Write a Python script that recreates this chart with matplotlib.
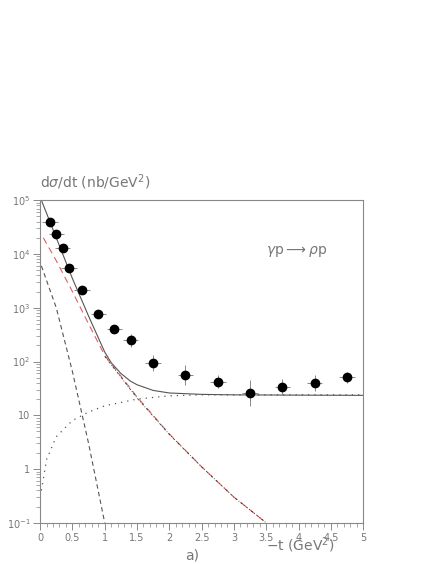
import matplotlib; matplotlib.use("Agg")
import matplotlib.pyplot as plt
from matplotlib.ticker import FixedLocator, NullFormatter, LogLocator

# data points
t_pts = [0.15, 0.25, 0.35, 0.45, 0.65, 0.9, 1.15, 1.4, 1.75, 2.25, 2.75, 3.25, 3.75, 4.25, 4.75]
y_pts = [3.9e4, 2.4e4, 1.3e4, 5.6e3, 2.1e3, 760, 400, 250, 93, 56, 42, 26, 33, 40, 51]
y_err = [0.04, 0.04, 0.05, 0.05, 0.06, 0.07, 0.08, 0.12, 0.15, 0.18, 0.12, 0.25, 0.15, 0.15, 0.1]

# model curves
t_tot = [0.02, 0.25, 0.5, 0.75, 1.0, 1.1, 1.25, 1.4, 1.5, 1.75, 2.0, 2.5, 3.0, 4.0, 5.0]
y_tot = [1e5, 2e4, 3.5e3, 700, 150, 95, 60, 43, 37, 29, 26, 24.5, 24, 23.7, 23.5]
t_red = [0.05, 0.25, 0.5, 0.75, 1.0, 1.5, 2.0, 2.5, 3.0, 3.5]
y_red = [2e4, 7.5e3, 2e3, 500, 130, 22, 4.5, 1.1, 0.3, 0.1]
t_dd = [1.0, 1.5, 2.0, 2.5, 3.0, 3.5]
y_dd = [125, 21, 4.4, 1.1, 0.3, 0.1]
t_steep = [0.02, 0.25, 0.5, 0.75, 1.0]
y_steep = [6e3, 1e3, 65, 3, 0.1]
t_dot = [0.02, 0.1, 0.25, 0.5, 0.75, 1.0, 1.5, 2.0, 2.5, 3.0, 5.0]
y_dot = [0.4, 1.5, 4, 8, 11.5, 15, 20, 23, 24, 24, 24]

fig = plt.figure(figsize=(4.36, 5.64), dpi=100)
ax = fig.add_axes([0.092, 0.073, 0.741, 0.572])
ax.set_yscale("log")
ax.set_xlim(0, 5); ax.set_ylim(0.1, 1e5)

gray = "#555555"
ax.plot(t_tot, y_tot, color=gray, lw=0.8)
ax.plot(t_red, y_red, color="#e06060", lw=0.8, ls=(0, (6, 4)))
ax.plot(t_dd, y_dd, color="#333333", lw=0.6, ls=(0, (3, 2, 1, 2)))
ax.plot(t_steep, y_steep, color=gray, lw=0.8, ls=(0, (4, 3)))
ax.plot(t_dot, y_dot, color=gray, lw=0.9, ls=(0, (1, 4)))
yerr_lo = [y * (1 - 10 ** -e) for y, e in zip(y_pts, y_err)]
yerr_hi = [y * (10 ** e - 1) for y, e in zip(y_pts, y_err)]
ax.errorbar(t_pts, y_pts, yerr=[yerr_lo, yerr_hi], xerr=0.12, fmt="o", color="black",
            ms=6, ecolor="#888888", elinewidth=0.7, capsize=0)

for s in ax.spines.values():
    s.set_color("#888888"); s.set_linewidth(0.8)
ax.xaxis.set_major_locator(FixedLocator([0, 0.5, 1, 1.5, 2, 2.5, 3, 3.5, 4, 4.5, 5]))
ax.xaxis.set_minor_locator(FixedLocator([i * 0.1 for i in range(51)]))
ax.set_xticklabels(["0", "0.5", "1", "1.5", "2", "2.5", "3", "3.5", "4", "4.5", "5"])
ax.set_yticks([0.1, 1, 10, 100, 1e3, 1e4, 1e5])
ax.set_yticklabels(["$10^{-1}$", "1", "10", "$10^2$", "$10^3$", "$10^4$", "$10^5$"])
ax.yaxis.set_minor_locator(LogLocator(base=10, subs=range(2, 10)))
ax.yaxis.set_minor_formatter(NullFormatter())
ax.tick_params(colors="#777777", labelsize=7, length=5, width=0.6, labelcolor="#777777", pad=2)
ax.tick_params(which="minor", length=3, color="#999999")

fig.text(0.092, 0.668, r"d$\sigma$/dt (nb/GeV$^2$)", color="#777777", fontsize=10)
fig.text(0.61, 0.55, r"$\gamma$p$\longrightarrow\rho$p", color="#777777", fontsize=10)
fig.text(0.61, 0.024, r"$-$t (GeV$^2$)", color="#777777", fontsize=10)
fig.text(0.425, 0.008, "a)", color="#777777", fontsize=10)
fig.savefig("out.png")
